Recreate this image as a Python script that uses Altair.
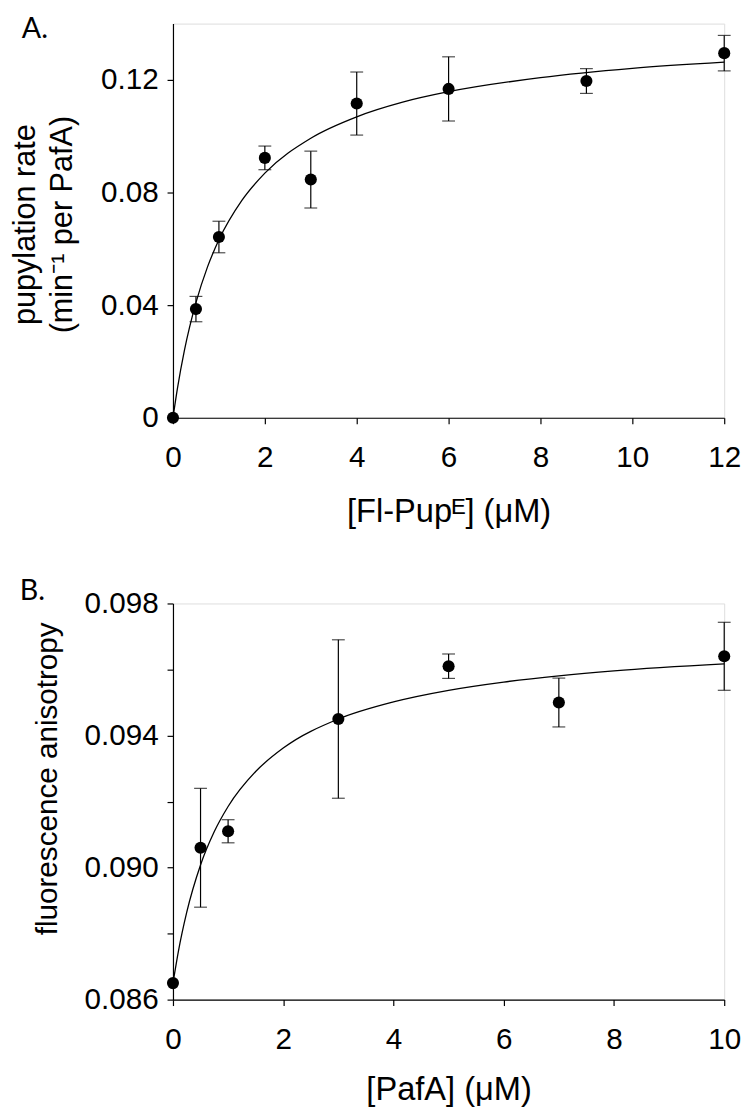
import altair as alt
import pandas as pd

# ---------------- Panel A data ----------------
a_x = [0, 0.5, 1, 2, 3, 4, 6, 9, 12]
a_y = [0.0, 0.0386, 0.0642, 0.0923, 0.0846, 0.1116, 0.1168, 0.1196, 0.1295]
a_err = [0.0, 0.0045, 0.0056, 0.0042, 0.0101, 0.0112, 0.0114, 0.0044, 0.0063]
a_fit_x = [0, 0.1, 0.25, 0.5, 0.75, 1, 1.5, 2, 3, 4, 5, 6, 8, 10, 12]
a_fit_y = [0.0, 0.0107, 0.0240, 0.0409, 0.0535, 0.0632, 0.0772, 0.0869,
           0.0993, 0.1069, 0.1121, 0.1158, 0.1208, 0.1241, 0.1263]
a_xticks = [0, 2, 4, 6, 8, 10, 12]
a_yticks = [0, 0.04, 0.08, 0.12]

# ---------------- Panel B data ----------------
b_x = [0, 0.5, 1, 3, 5, 7, 10]
b_y = [0.0865, 0.0906, 0.0911, 0.0945, 0.0961, 0.0950, 0.0964]
b_err = [0.0, 0.0018, 0.00035, 0.0024, 0.00037, 0.00074, 0.00103]
b_fit_x = [0, 0.1, 0.25, 0.5, 0.75, 1, 1.5, 2, 3, 4, 5, 6, 7, 8, 10]
b_fit_y = [0.0865, 0.08748, 0.08865, 0.09008, 0.09109, 0.09185, 0.09291,
           0.09362, 0.09450, 0.09502, 0.09537, 0.09562, 0.09581, 0.09596, 0.09617]
b_xticks = [0, 2, 4, 6, 8, 10]
b_yticks = [0.086, 0.088, 0.090, 0.092, 0.094, 0.096, 0.098]

LABEL_FONT = "Liberation Sans"
PANEL_FONT = "Lato"


def panel(xs, ys, errs, fx, fy, xdom, ydom, xticks, yticks, xtitle, ytitle,
          ylabel_expr, letter, w, h, ytitle_font, ytitle_x, ytitle_y,
          xtitle_pad, letter_x, letter_y):
    pts = pd.DataFrame({"x": xs, "y": ys, "e": errs})
    eb = pts[pts["e"] > 0].copy()
    eb["lo"] = eb["y"] - eb["e"]
    eb["hi"] = eb["y"] + eb["e"]
    fit = pd.DataFrame({"x": fx, "y": fy})

    xscale = alt.Scale(domain=xdom, nice=False, zero=False)
    yscale = alt.Scale(domain=ydom, nice=False, zero=False)
    xaxis = alt.Axis(values=xticks, title=xtitle, grid=False, labelFlush=False,
                     labelOverlap=False, tickSize=6, tickColor="black",
                     domainColor="black", tickWidth=1.2, domainWidth=1.2,
                     labelFont=LABEL_FONT, labelFontSize=30, labelColor="black",
                     labelPadding=19, titleFont=LABEL_FONT, titleFontSize=33,
                     titleFontWeight="normal", titleColor="black",
                     titlePadding=xtitle_pad)
    yaxis = alt.Axis(values=yticks, title=ytitle, grid=False, labelOverlap=False,
                     labelExpr=ylabel_expr, tickSize=6, tickColor="black",
                     domainColor="black", tickWidth=1.2, domainWidth=1.2,
                     labelFont=LABEL_FONT, labelFontSize=30, labelColor="black",
                     labelPadding=9, titleFont=LABEL_FONT,
                     titleFontSize=ytitle_font, titleFontWeight="normal",
                     titleColor="black", titleX=ytitle_x, titleY=ytitle_y,
                     titleBaseline="middle", titleLineHeight=38)

    curve = alt.Chart(fit).mark_line(color="black", strokeWidth=1.3,
                                     interpolate="monotone").encode(
        x=alt.X("x:Q", scale=xscale, axis=xaxis),
        y=alt.Y("y:Q", scale=yscale, axis=yaxis),
    )
    rules = alt.Chart(eb).mark_rule(color="black", strokeWidth=1.2).encode(
        x="x:Q", y="lo:Q", y2="hi:Q")
    cap_lo = alt.Chart(eb).mark_tick(color="black", orient="horizontal", size=13,
                                     thickness=1.2).encode(x="x:Q", y="lo:Q")
    cap_hi = alt.Chart(eb).mark_tick(color="black", orient="horizontal", size=13,
                                     thickness=1.2).encode(x="x:Q", y="hi:Q")
    dots = alt.Chart(pts).mark_point(filled=True, color="black", size=150,
                                     opacity=1, shape="circle").encode(
        x="x:Q", y="y:Q")
    lab = alt.Chart(pd.DataFrame({"t": [letter]})).mark_text(
        font=PANEL_FONT, fontSize=29, color="black", align="left",
        baseline="top").encode(
        text="t:N", x=alt.value(letter_x), y=alt.value(letter_y))
    return alt.layer(curve, rules, cap_lo, cap_hi, dots, lab).properties(
        width=w, height=h)


chart_a = panel(a_x, a_y, a_err, a_fit_x, a_fit_y, [0, 12], [0, 0.14],
                a_xticks, a_yticks, "[Fl-Pupᴱ] (μM)",
                ["pupylation rate", "(min⁻¹ per PafA)"],
                "datum.value == 0 ? '0' : format(datum.value, '.2f')",
                "A.", 558, 399, 31, -149.5, 203, 24, -153, -8)

chart_b = panel(b_x, b_y, b_err, b_fit_x, b_fit_y, [0, 10], [0.086, 0.098],
                b_xticks, b_yticks, "[PafA] (μM)", "fluorescence anisotropy",
                "round(datum.value * 1000) % 4 == 2 ? format(datum.value, '.3f') : ''",
                "B.", 558, 401, 30, -126.5, 177, 20, -155, -27)

chart = alt.vconcat(chart_a, chart_b, spacing=47, padding=0).configure_view(
    stroke=None).configure(background="white")

chart.save("out.html", embed_options={"renderer": "svg", "actions": False})
